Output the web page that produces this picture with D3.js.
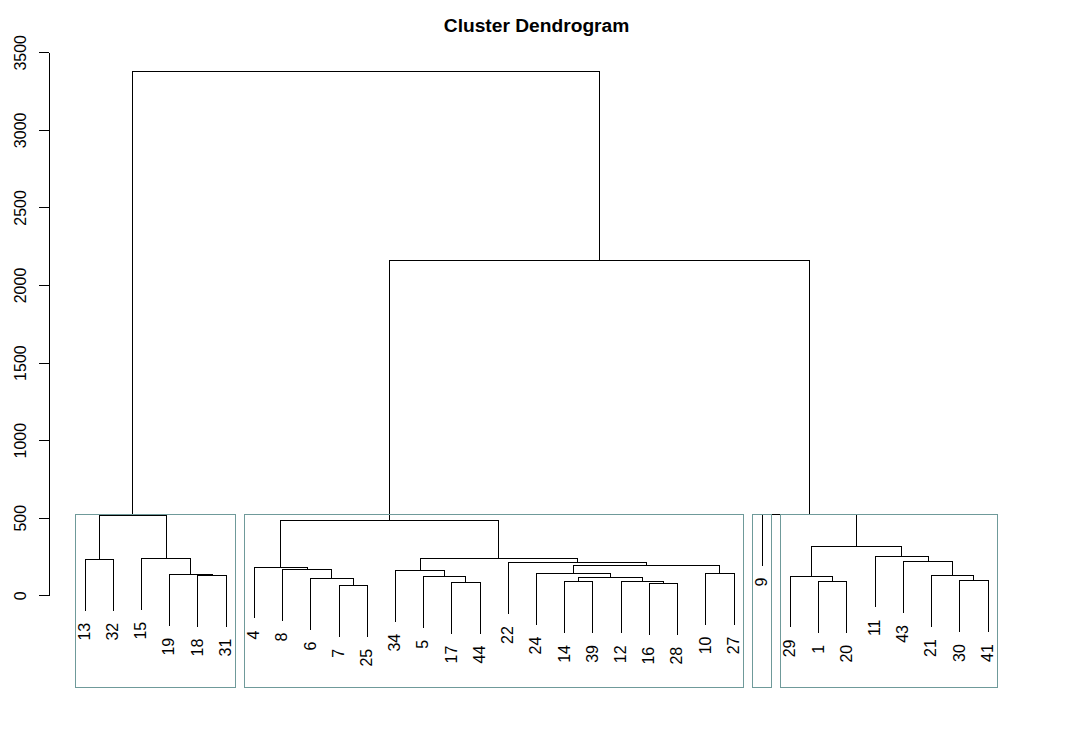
<!DOCTYPE html>
<html><head><meta charset="utf-8">
<script src="https://cdn.jsdelivr.net/npm/d3@7"></script>
<style>
  body { margin: 0; background: #ffffff; }
  text { font-family: "Liberation Sans", Arial, sans-serif; fill: #000; }
</style>
</head><body>
<svg id="chart" width="1073" height="737"></svg>
<script>
// ---------------- data (R hclust-style merge matrix) ----------------
const chartTitle = "Cluster Dendrogram";
// negative = observation (leaf label), positive = earlier merge step (1-based)
const mergeLeft   = [-7, -16, -17, -12, -14, -1, -30, -6, 5, -5, -29, -21, -18, -19, -24, -10,
                     -34, -8, -4, 15, -22, -43, -13, -15, 17, -11, 11, 19, 23, -9, 28, 29];
const mergeRight  = [-25, -28, -44, 2, -39, -20, -41, 1, 4, 3, 6, 7, -31, 13, 9, -27,
                     10, 8, 18, 16, 20, 12, -32, 14, 21, 22, 26, 25, 24, 27, 30, 31];
const mergeHeight = [64, 77, 84, 86, 88, 90, 94, 110, 114, 122, 124, 126, 129, 135, 142, 143,
                     161, 168, 182, 193, 210, 217, 232, 238, 239, 253, 316, 479, 516, 523, 2161, 3379];
const yTicks = [0, 500, 1000, 1500, 2000, 2500, 3000, 3500];
const nClusters = 4;      // rect.hclust(k = 4)
const hangFrac = 0.1;     // plot.hclust hang

// ---------------- layout ----------------
const W = 1073, H = 737;
const plotLeft = 48.9, plotRight = 1024.2;
const plotBottom = 687;
const yPix0 = 595.3, yPixTop = 52.3;
const boxColor = "#6f9a9a";

const svg = d3.select("#chart");

// build tree
function build(ref) {
  if (ref < 0) return { name: String(-ref) };
  const i = ref - 1;
  return { height: mergeHeight[i], children: [build(mergeLeft[i]), build(mergeRight[i])] };
}
const root = d3.hierarchy(build(mergeHeight.length));
const leaves = root.leaves();
const n = leaves.length;
leaves.forEach((l, i) => { l.pos = i + 1; });
root.eachAfter(d => { if (d.children) d.pos = d3.mean(d.children, c => c.pos); });

const hMin = d3.min(mergeHeight), hMax = d3.max(mergeHeight);
const hangAmt = hangFrac * (hMax - hMin);

const pad = 0.04 * (n - 1);
const x = d3.scaleLinear().domain([1 - pad, n + pad]).range([plotLeft, plotRight]);
const y = d3.scaleLinear().domain([0, 3500]).range([yPix0, yPixTop]);

// title
svg.append("text")
  .attr("x", (plotLeft + plotRight) / 2).attr("y", 32)
  .attr("text-anchor", "middle")
  .style("font-weight", "bold").style("font-size", "19.2px")
  .text(chartTitle);

// y axis
const axis = svg.append("g")
  .attr("transform", `translate(${Math.floor(plotLeft) + 0.5},0)`)
  .call(d3.axisLeft(y).tickValues(yTicks).tickSize(9.5).tickSizeOuter(0).tickFormat(d3.format("d")));
axis.select(".domain").attr("stroke", "#000").attr("shape-rendering", "crispEdges");
axis.selectAll(".tick line").attr("stroke", "#000").attr("shape-rendering", "crispEdges");
axis.selectAll(".tick text")
  .attr("x", null).attr("dy", null)
  .attr("transform", "translate(-23,0) rotate(-90)")
  .attr("text-anchor", "middle")
  .style("font-size", "16px")
  .style("font-family", "'Liberation Sans', Arial, sans-serif");

// dendrogram segments
const g = svg.append("g").attr("fill", "none").attr("stroke", "#000")
  .attr("stroke-width", 1).attr("shape-rendering", "crispEdges");
root.each(d => {
  if (!d.children) return;
  const h = d.data.height;
  const [a, b] = d.children;
  const ya = a.children ? a.data.height : h - hangAmt;
  const yb = b.children ? b.data.height : h - hangAmt;
  g.append("path").attr("d",
    `M${x(a.pos)},${y(ya)}V${y(h)}H${x(b.pos)}V${y(yb)}`);
});

// leaf labels
const gap = 12;
svg.append("g").selectAll("text").data(leaves).join("text")
  .attr("transform", d => `translate(${x(d.pos)},${y(d.parent.data.height - hangAmt) + gap}) rotate(-90)`)
  .attr("text-anchor", "end")
  .attr("dy", "0.3em")
  .style("font-size", "16px")
  .text(d => d.data.name);

// rect.hclust boxes (k clusters)
const sortedDesc = mergeHeight.slice().sort((p, q) => q - p);
const cutH = (sortedDesc[nClusters - 2] + sortedDesc[nClusters - 1]) / 2;
const clusters = [];
(function collect(node) {
  if (!node.children || node.data.height < cutH) { clusters.push(node); return; }
  node.children.forEach(collect);
})(root);
svg.append("g").selectAll("rect").data(clusters).join("rect")
  .attr("x", c => x(d3.min(c.leaves(), l => l.pos) - 1 + 0.66))
  .attr("y", y(cutH))
  .attr("width", c => x(d3.max(c.leaves(), l => l.pos) + 0.33) - x(d3.min(c.leaves(), l => l.pos) - 1 + 0.66))
  .attr("height", plotBottom - y(cutH))
  .attr("fill", "none").attr("stroke", boxColor).attr("stroke-width", 1)
  .attr("shape-rendering", "crispEdges");
</script>
</body></html>
